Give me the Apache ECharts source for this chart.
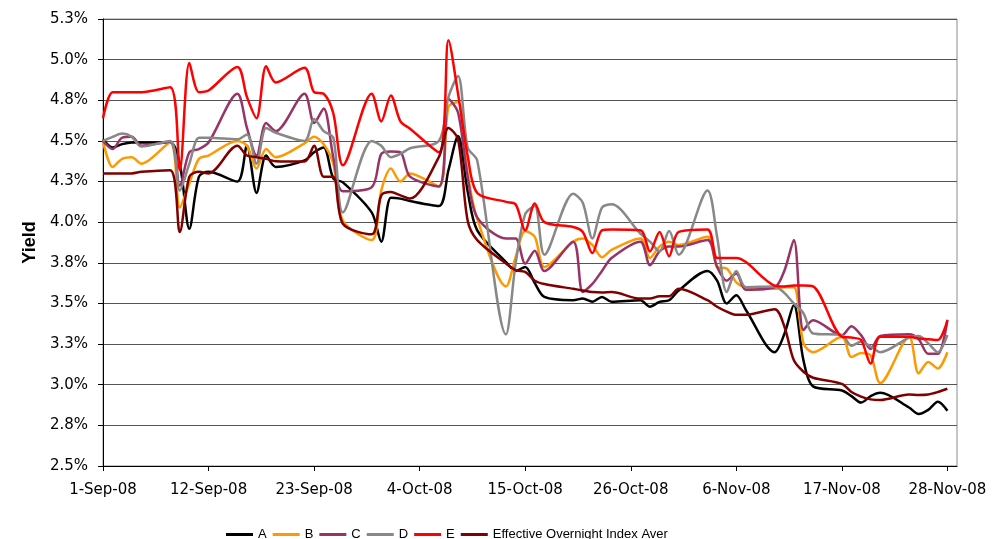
<!DOCTYPE html>
<html>
<head>
<meta charset="utf-8">
<title>Yield</title>
<script src="https://cdn.jsdelivr.net/npm/echarts@6/dist/echarts.min.js"></script>
<style>
  html, body { margin: 0; padding: 0; background: #fff; }
  #chart { width: 996px; height: 539px; }
</style>
</head>
<body>
<div id="chart"></div>
<script>
// business days, counted from 1-Sep-08
const dayIndex = [0, 1, 2, 3, 4, 7, 8, 9, 10, 11, 14, 15, 16, 17, 18, 21, 22, 23, 24, 25,
  28, 29, 30, 31, 32, 35, 36, 37, 38, 39, 42, 43, 44, 45, 46, 49, 50, 51, 52, 53,
  56, 57, 58, 59, 60, 63, 64, 65, 66, 67, 70, 71, 72, 73, 74, 77, 78, 79, 80, 81,
  84, 85, 86, 87, 88]

const labelDays = [0, 11, 22, 33, 44, 55, 66, 77, 88]
const dateLabels = ['1-Sep-08', '12-Sep-08', '23-Sep-08', '4-Oct-08', '15-Oct-08',
  '26-Oct-08', '6-Nov-08', '17-Nov-08', '28-Nov-08']
const yTickLabels = ['2.5%', '2.8%', '3.0%', '3.3%', '3.5%', '3.8%', '4.0%', '4.3%',
  '4.5%', '4.8%', '5.0%', '5.3%']

const seriesNames = ['A', 'B', 'C', 'D', 'E', 'Effective Overnight Index Aver']
const colors = ['#000000', '#ff9900', '#993366', '#888888', '#ff0000', '#800000']

const valuesA = [4.51, 4.46, 4.48, 4.49, 4.49, 4.49, 4.36, 3.96, 4.28, 4.31,
  4.25, 4.47, 4.18, 4.41, 4.34, 4.38, 4.43, 4.46, 4.27, 4.245,
  4.06, 3.88, 4.15, 4.145, 4.13, 4.10, 4.32, 4.53, 4.19, 3.95,
  3.755, 3.70, 3.725, 3.625, 3.54, 3.52, 3.53, 3.51, 3.54, 3.51,
  3.52, 3.48, 3.51, 3.52, 3.58, 3.70, 3.64, 3.50, 3.55, 3.46,
  3.20, 3.31, 3.49, 3.15, 2.99, 2.965, 2.93, 2.89, 2.93, 2.95,
  2.86, 2.82, 2.845, 2.895, 2.84]

const valuesB = [4.50, 4.34, 4.39, 4.40, 4.36, 4.49, 4.09, 4.24, 4.39, 4.41,
  4.50, 4.47, 4.33, 4.45, 4.40, 4.485, 4.525, 4.48, 4.36, 4.01,
  3.89, 4.195, 4.33, 4.25, 4.30, 4.22, 4.71, 4.74, 4.30, 4.02,
  3.605, 3.785, 3.945, 3.91, 3.725, 3.88, 3.90, 3.86, 3.785, 3.83,
  3.90, 3.78, 3.85, 3.88, 3.86, 3.91, 3.725, 3.715, 3.63, 3.60,
  3.59, 3.60, 3.60, 3.255, 3.20, 3.295, 3.17, 3.195, 3.18, 3.01,
  3.295, 3.07, 3.14, 3.10, 3.20]

const valuesC = [4.50, 4.45, 4.52, 4.525, 4.47, 4.495, 4.225, 4.43, 4.45, 4.49,
  4.79, 4.58, 4.41, 4.61, 4.56, 4.79, 4.61, 4.70, 4.40, 4.19,
  4.215, 4.42, 4.435, 4.43, 4.28, 4.22, 4.76, 4.675, 4.28, 4.03,
  3.90, 3.90, 3.745, 3.825, 3.70, 3.88, 3.57, 3.62, 3.70, 3.78,
  3.88, 3.735, 3.82, 3.85, 3.85, 3.89, 3.725, 3.64, 3.685, 3.585,
  3.60, 3.70, 3.89, 3.336, 3.397, 3.305, 3.36, 3.305, 3.22, 3.30,
  3.31, 3.28, 3.19, 3.19, 3.40]

const valuesD = [4.50, 4.525, 4.545, 4.525, 4.465, 4.50, 4.195, 4.36, 4.52, 4.52,
  4.51, 4.54, 4.36, 4.58, 4.55, 4.50, 4.635, 4.56, 4.52, 4.06,
  4.50, 4.47, 4.40, 4.42, 4.455, 4.50, 4.77, 4.90, 4.46, 4.38,
  3.31, 3.745, 4.05, 4.10, 3.80, 4.175, 4.12, 3.90, 4.09, 4.11,
  3.93, 3.88, 3.82, 3.945, 3.80, 4.195, 3.91, 3.57, 3.70, 3.60,
  3.605, 3.565, 3.50, 3.44, 3.315, 3.305, 3.24, 3.265, 3.235, 3.20,
  3.29, 3.30, 3.255, 3.20, 3.305]

const valuesE = [4.64, 4.80, 4.80, 4.80, 4.80, 4.83, 4.32, 4.98, 4.80, 4.81,
  4.955, 4.77, 4.64, 4.96, 4.86, 4.95, 4.80, 4.79, 4.67, 4.35,
  4.79, 4.62, 4.78, 4.62, 4.575, 4.43, 5.12, 4.79, 4.41, 4.18,
  4.125, 4.11, 3.95, 4.115, 4.00, 3.97, 3.94, 3.81, 3.95, 3.955,
  3.95, 3.82, 3.94, 3.79, 3.94, 3.955, 3.78, 3.78, 3.78, 3.755,
  3.61, 3.605, 3.61, 3.61, 3.605, 3.295, 3.29, 3.275, 3.13, 3.295,
  3.295, 3.285, 3.28, 3.275, 3.395]

const valuesF = [4.30, 4.30, 4.30, 4.30, 4.31, 4.32, 3.94, 4.28, 4.31, 4.30,
  4.47, 4.41, 4.40, 4.39, 4.375, 4.373, 4.47, 4.28, 4.28, 3.99,
  3.925, 4.165, 4.185, 4.165, 4.145, 4.40, 4.58, 4.51, 4.01, 3.89,
  3.745, 3.705, 3.694, 3.64, 3.62, 3.59, 3.58, 3.57, 3.567, 3.57,
  3.53, 3.53, 3.545, 3.545, 3.59, 3.52, 3.48, 3.45, 3.43, 3.43,
  3.465, 3.36, 3.15, 3.08, 3.043, 3.005, 2.955, 2.927, 2.91, 2.906,
  2.94, 2.937, 2.94, 2.955, 2.975]

const allValues = [valuesA, valuesB, valuesC, valuesD, valuesE, valuesF]

let myChart = null

const initChart = () => {
  myChart = echarts.init(document.getElementById('chart'), null, { renderer: 'canvas' })
  const option = {
    backgroundColor: '#ffffff',
    color: colors,
    animation: false,
    grid: {
      left: 103,
      right: 39,
      top: 19,
      bottom: 73,
      containLabel: false,
      outerBoundsMode: 'none',
      show: true,
      borderColor: '#8c8c8c',
      borderWidth: 1
    },
    legend: {
      data: seriesNames,
      left: 226,
      top: 528,
      padding: 0,
      icon: 'rect',
      itemWidth: 27,
      itemHeight: 3,
      itemGap: 6,
      textStyle: {
        color: '#000',
        fontFamily: 'Liberation Sans',
        fontSize: 13
      }
    },
    xAxis: {
      type: 'value',
      min: 0,
      max: 89,
      interval: 11,
      axisLine: { lineStyle: { color: '#000', width: 1 } },
      axisTick: {
        customValues: labelDays,
        length: 5,
        lineStyle: { color: '#000' }
      },
      axisLabel: {
        customValues: labelDays,
        margin: 17,
        color: '#000',
        fontFamily: 'DejaVu Sans',
        fontSize: 15,
        formatter: (v) => {
          const i = labelDays.indexOf(Math.round(v))
          return i >= 0 ? dateLabels[i] : ''
        }
      },
      splitLine: { show: false }
    },
    yAxis: {
      type: 'value',
      min: 2.5,
      max: 5.25,
      interval: 0.25,
      name: 'Yield',
      nameLocation: 'middle',
      nameGap: 64,
      nameTextStyle: {
        color: '#000',
        fontFamily: 'Liberation Sans',
        fontWeight: 'bold',
        fontSize: 18
      },
      axisLine: { show: true, lineStyle: { color: '#000', width: 1 } },
      axisTick: { show: true, length: 5, lineStyle: { color: '#000' } },
      axisLabel: {
        margin: 15,
        color: '#000',
        fontFamily: 'DejaVu Sans',
        fontSize: 15,
        formatter: (v) => yTickLabels[Math.round((v - 2.5) / 0.25)]
      },
      splitLine: { lineStyle: { color: '#555555', width: 1 } }
    },
    series: seriesNames.map((name, k) => ({
      name: name,
      type: 'line',
      smooth: 0.3,
      showSymbol: false,
      symbol: 'none',
      lineStyle: { width: 2.5, color: colors[k] },
      data: dayIndex.map((d, i) => [d, allValues[k][i]])
    }))
  }
  myChart.setOption(option)
}

initChart()
window.addEventListener('resize', () => {
  myChart?.resize()
})
</script>
</body>
</html>
